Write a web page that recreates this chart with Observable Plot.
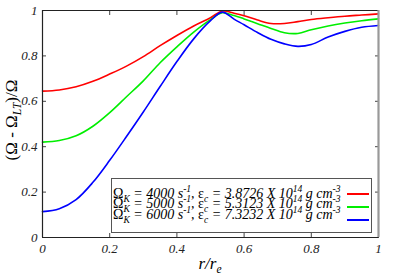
<!DOCTYPE html>
<html>
<head>
<meta charset="utf-8">
<script src="https://cdn.jsdelivr.net/npm/d3@7"></script>
<script src="https://cdn.jsdelivr.net/npm/@observablehq/plot@0.6"></script>
<style>
  html, body { margin: 0; padding: 0; background: #fff; }
  #wrap { position: relative; width: 396px; height: 277px; font-family: "Liberation Serif", "Times New Roman", "DejaVu Serif", serif; }
  #wrap svg text { font-family: "Liberation Serif", "Times New Roman", serif !important; font-style: italic !important; font-size: 13px !important; }
  #ylab { position: absolute; left: 11px; top: 120px; transform: translate(-50%, -50%) rotate(-90deg); font-size: 17px; line-height: 17px; white-space: nowrap; }
  #xlab { position: absolute; left: 210px; top: 255px; transform: translateX(-50%); font-size: 17px; line-height: 17px; font-style: italic; white-space: nowrap; }
  sub, sup { line-height: 0; font-size: 0.68em; }
  #legend { position: absolute; left: 111px; top: 178px; width: 261px; height: 55px; border: 1px solid #555; background: #fff; box-sizing: border-box; }
  #legend .row { position: absolute; left: 1px; font-size: 14px; white-space: nowrap; font-style: italic; line-height: 11px; }
  #legend .up { font-style: normal; }
  #legend .sw { position: absolute; width: 22px; height: 0; border-top: 2px solid; }
</style>
</head>
<body>
<div id="wrap"></div>
<script>
// ---- data ----
const r = [0, 0.05, 0.1, 0.15, 0.2, 0.25, 0.3, 0.35, 0.4, 0.45, 0.5, 0.535, 0.57, 0.6, 0.64, 0.68, 0.72, 0.76, 0.8, 0.85, 0.9, 0.95, 1];
const red   = [0.645, 0.650, 0.664, 0.688, 0.720, 0.755, 0.797, 0.845, 0.890, 0.932, 0.968, 0.998, 0.988, 0.977, 0.958, 0.943, 0.943, 0.951, 0.960, 0.968, 0.975, 0.980, 0.985];
const green = [0.420, 0.427, 0.448, 0.490, 0.550, 0.620, 0.690, 0.770, 0.840, 0.905, 0.960, 0.990, 0.978, 0.963, 0.942, 0.921, 0.902, 0.899, 0.915, 0.932, 0.945, 0.955, 0.963];
const blue  = [0.114, 0.127, 0.167, 0.243, 0.340, 0.445, 0.553, 0.665, 0.775, 0.875, 0.955, 0.993, 0.962, 0.937, 0.903, 0.873, 0.853, 0.842, 0.850, 0.883, 0.908, 0.926, 0.934];
const seriesNames = ["4000", "5000", "6000"];
const epsValues = ["3.8726", "5.3123", "7.3232"];
const colors = ["#ff0000", "#00ee00", "#0000ff"];
const xTicks = [0, 0.2, 0.4, 0.6, 0.8, 1];
const yTicks = [0, 0.2, 0.4, 0.6, 0.8, 1];
const tickLabels = ["0", "0.2", "0.4", "0.6", "0.8", "1"];

const values = [red, green, blue];
const rows = [];
values.forEach((vals, s) => vals.forEach((v, i) => rows.push({r: r[i], v, s: seriesNames[s]})));

const fmt = d => tickLabels[xTicks.indexOf(d)];

const chart = Plot.plot({
  width: 396,
  height: 277,
  marginLeft: 42,
  marginRight: 18,
  marginTop: 10,
  marginBottom: 40,
  style: {background: "#fff", overflow: "visible"},
  x: {domain: [0, 1]},
  y: {domain: [0, 1]},
  color: {domain: seriesNames, range: colors},
  marks: [
    Plot.axisX({ticks: xTicks, tickSize: 0, tickPadding: 6, tickFormat: fmt, label: null, fill: "#222", fontFamily: "Liberation Serif", fontSize: 13, fontStyle: "italic"}),
    Plot.axisY({ticks: yTicks, tickSize: 0, tickPadding: 5, tickFormat: fmt, label: null, fill: "#222", fontFamily: "Liberation Serif", fontSize: 13, fontStyle: "italic"}),
    Plot.axisX({ticks: xTicks, tickSize: -4, text: null, label: null, stroke: "#444"}),
    Plot.axisX({ticks: xTicks, anchor: "top", tickSize: -4, text: null, label: null, stroke: "#444"}),
    Plot.axisY({ticks: yTicks, tickSize: -4, text: null, label: null, stroke: "#444"}),
    Plot.axisY({ticks: yTicks, anchor: "right", tickSize: -4, text: null, label: null, stroke: "#444"}),
    Plot.line(rows, {x: "r", y: "v", z: "s", stroke: "s", strokeWidth: 1.6, curve: "catmull-rom"}),
    Plot.ruleY([0, 1], {stroke: "#222", strokeWidth: 1.2}),
    Plot.ruleX([0], {stroke: "#222", strokeWidth: 1.2}),
    Plot.ruleX([1], {stroke: "#999", strokeWidth: 2.2})
  ]
});

const wrap = document.getElementById("wrap");
wrap.appendChild(chart);

const ylab = document.createElement("div");
ylab.id = "ylab";
ylab.innerHTML = "(Ω - Ω<sub><i>LT</i></sub>)/Ω";
wrap.appendChild(ylab);

const xlab = document.createElement("div");
xlab.id = "xlab";
xlab.innerHTML = "r/r<sub>e</sub>";
wrap.appendChild(xlab);

const legend = document.createElement("div");
legend.id = "legend";
seriesNames.forEach((name, i) => {
  const row = document.createElement("div");
  row.className = "row";
  row.style.top = (8.5 + i * 10.5) + "px";
  row.innerHTML = `<span class="up">Ω</span><sub>K</sub> = ${name} s<sup>-1</sup>, <span class="up">ε</span><sub>c</sub> = ${epsValues[i]} X 10<sup>14</sup> g cm<sup>-3</sup>`;
  legend.appendChild(row);
  const sw = document.createElement("div");
  sw.className = "sw";
  sw.style.borderColor = colors[i];
  sw.style.left = "235px";
  sw.style.top = (14 + i * 13) + "px";
  legend.appendChild(sw);
});
wrap.appendChild(legend);
</script>
</body>
</html>
